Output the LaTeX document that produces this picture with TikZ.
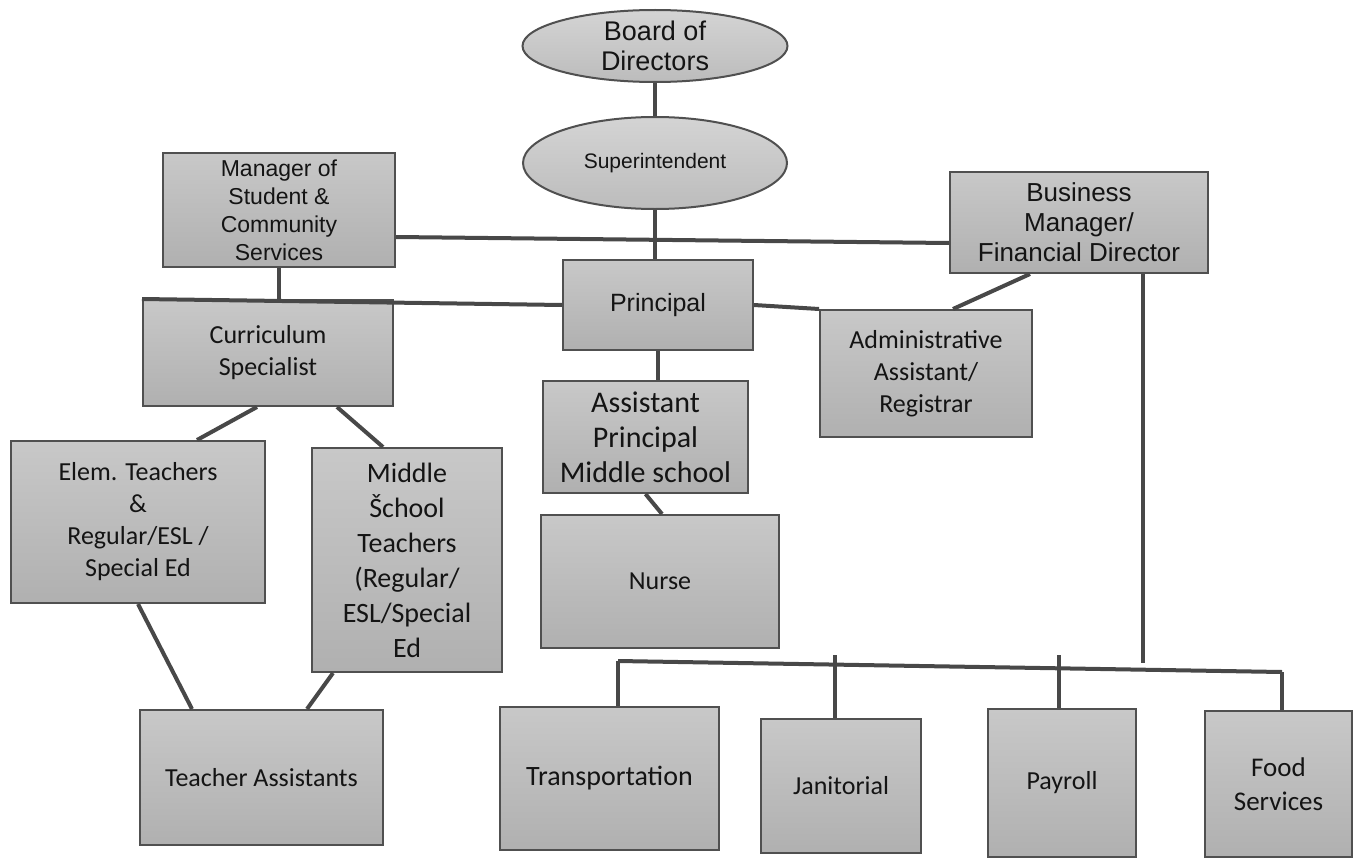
\documentclass[tikz,border=0pt]{standalone}
\usepackage{fontspec}
\setmainfont{Carlito}
\newfontfamily\arialf{Liberation Sans}
\usetikzlibrary{shapes.geometric,calc}
\definecolor{boxtop}{RGB}{200,200,200}
\definecolor{boxbot}{RGB}{176,176,176}
\definecolor{ovaltop}{RGB}{212,212,212}
\definecolor{ovalbot}{RGB}{188,188,188}
\definecolor{edgec}{RGB}{80,80,80}
\definecolor{linec}{RGB}{72,72,72}
\definecolor{txt}{RGB}{20,20,20}
\begin{document}
\begin{tikzpicture}[x=1pt,y=-1pt,
  orgbox/.style={rectangle, draw=edgec, line width=2pt, top color=boxtop, bottom color=boxbot,
    align=center, inner sep=0pt, text=txt},
  oval/.style={ellipse, draw=edgec, line width=2pt, top color=ovaltop, bottom color=ovalbot,
    align=center, inner sep=0pt, text=txt},
  conn/.style={draw=linec, line width=4pt},
  arl/.style={font=\arialf\fontsize{23}{28}\selectfont},
  cal/.style={font=\fontsize{26}{32}\selectfont}]
\fill[white] (0,0) rectangle (1362,859);
\useasboundingbox (0,0) rectangle (1362,859);

% nodes
\node[oval, minimum width=265pt, minimum height=72pt, font=\arialf\fontsize{27}{30}\selectfont] (board) at (655,46) {Board of\\Directors};
\node[oval, minimum width=264pt, minimum height=92pt, font=\arialf\fontsize{21}{25}\selectfont] (sup) at (655,163) {Superintendent};
\node[orgbox, arl, minimum width=232pt, minimum height=114pt] (mgr) at (279,210) {Manager of\\Student \&\\Community\\Services};
\node[orgbox, font=\arialf\fontsize{26}{30}\selectfont, minimum width=258pt, minimum height=101pt] (biz) at (1079,222.5) {Business\\Manager/\\Financial Director};
\node[orgbox, font=\arialf\fontsize{25}{30}\selectfont, minimum width=190pt, minimum height=90pt] (prin) at (658,305) {Principal};
\node[orgbox, cal, minimum width=250pt, minimum height=106pt] (curr) at (268,353) {Curriculum\\Specialist};
\node[orgbox, cal, minimum width=212pt, minimum height=127pt] (admin) at (926,373.5) {Administrative\\Assistant/\\Registrar};
\node[orgbox, font=\fontsize{30}{35}\selectfont, minimum width=205pt, minimum height=112pt] (ap) at (645.5,437) {Assistant\\Principal\\Middle school};
\node[orgbox, cal, minimum width=254pt, minimum height=162pt] (elem) at (138,522) {Elem. Teachers\\\&\\Regular/ESL /\\Special Ed};
\node[orgbox, font=\fontsize{28}{35}\selectfont, minimum width=190pt, minimum height=224pt] (mid) at (407,560) {Middle\\Šchool\\Teachers\\(Regular/\\ESL/Special\\Ed};
\node[orgbox, cal, minimum width=238pt, minimum height=133pt] (nurse) at (660,581.5) {Nurse};
\node[orgbox, cal, minimum width=243pt, minimum height=135pt] (ta) at (261.5,777.5) {Teacher Assistants};
\node[orgbox, font=\fontsize{28}{33}\selectfont, minimum width=219pt, minimum height=143pt] (trans) at (609.5,778.5) {Transportation};
\node[orgbox, cal, minimum width=160pt, minimum height=134pt] (jan) at (841,786) {Janitorial};
\node[orgbox, cal, minimum width=148pt, minimum height=148pt] (pay) at (1062,783) {Payroll};
\node[orgbox, font=\fontsize{27}{34}\selectfont, minimum width=147pt, minimum height=146pt] (food) at (1278.5,784) {Food\\Services};

% bus coordinates
\coordinate (busL) at (618,661);
\coordinate (busR) at (1282,672);
\coordinate (bv) at (1143,663);
\coordinate (jtop) at (835,655);
\coordinate (ptop) at (1059,655);

% connectors
\draw[conn] (board.south) -- (sup.north);
\draw[conn] (sup.south) -- (sup.south |- prin.north);
\draw[conn] ([yshift=-27pt]mgr.east) -- ([yshift=-20.5pt]biz.west);
\draw[conn] (mgr.south) -- (mgr.south |- curr.north);
\draw[conn] (curr.north west) -- (prin.west);
\draw[conn] (prin.east) -- (admin.north west);
\draw[conn] ([xshift=-49pt]biz.south) -- ([xshift=27pt]admin.north);
\draw[conn] (prin.south) -- (prin.south |- ap.north);
\draw[conn] (ap.south) -- ([xshift=2pt]nurse.north);
\draw[conn] ([xshift=-11pt]curr.south) -- ([xshift=59pt]elem.north);
\draw[conn] ([xshift=69pt]curr.south) -- ([xshift=-24pt]mid.north);
\draw[conn] (elem.south) -- ([xshift=-69.5pt]ta.north);
\draw[conn] ([xshift=-74pt]mid.south) -- ([xshift=45.5pt]ta.north);
\draw[conn] ([xshift=64pt]biz.south) -- (bv);
\draw[conn] (busL) -- (busR);
\draw[conn] (busL) -- ([xshift=8.5pt]trans.north);
\draw[conn] (jtop) -- ([xshift=-6pt]jan.north);
\draw[conn] (ptop) -- ([xshift=-3pt]pay.north);
\draw[conn] (busR) -- ([xshift=3.5pt]food.north);
\end{tikzpicture}
\end{document}
